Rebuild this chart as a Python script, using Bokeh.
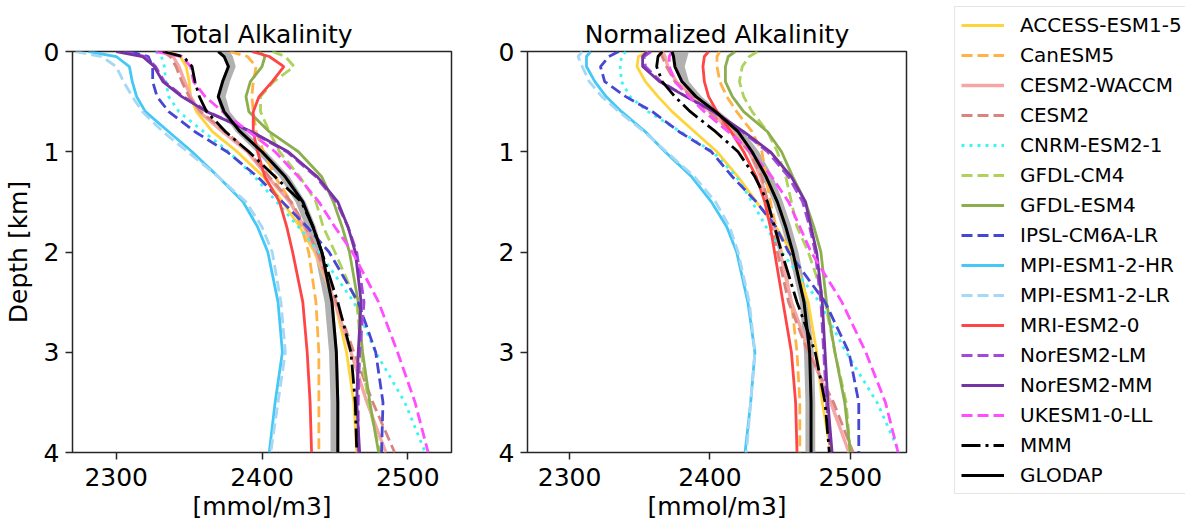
from bokeh.plotting import figure
from bokeh.layouts import row
from bokeh.models import Range1d, FixedTicker, Legend, LegendItem
from bokeh.embed import file_html
from bokeh.resources import INLINE

# ---------------- data ----------------
depth = [0, 0.05, 0.15, 0.3, 0.45, 0.6, 0.8, 1.0, 1.25, 1.5, 1.75, 2.0, 2.5, 3.0, 3.5, 4.0]

models = ["ACCESS-ESM1-5", "CanESM5", "CESM2-WACCM", "CESM2", "CNRM-ESM2-1", "GFDL-CM4",
          "GFDL-ESM4", "IPSL-CM6A-LR", "MPI-ESM1-2-HR", "MPI-ESM1-2-LR", "MRI-ESM2-0",
          "NorESM2-LM", "NorESM2-MM", "UKESM1-0-LL"]

# Total alkalinity (left panel)
ta_access = [2336, 2344, 2348, 2350, 2351, 2355, 2366, 2383, 2401, 2414, 2426, 2436, 2450, 2458, 2463, 2465]
ta_canesm = [2378, 2390, 2396, 2394, 2393, 2394, 2396, 2401, 2409, 2420, 2427, 2432, 2437, 2439, 2439, 2439]
ta_waccm = [2335, 2339, 2343, 2347, 2351, 2357, 2373, 2390, 2404, 2419, 2429, 2437, 2450, 2461, 2472, 2485]
ta_cesm2 = [2332, 2337, 2341, 2345, 2350, 2358, 2375, 2391, 2405, 2420, 2430, 2438, 2451, 2463, 2476, 2491]
ta_cnrm = [2327, 2331, 2333, 2334, 2336, 2343, 2360, 2377, 2395, 2410, 2425, 2439, 2463, 2478, 2498, 2512]
ta_gfdlcm4 = [2407, 2416, 2422, 2408, 2399, 2399, 2405, 2412, 2426, 2437, 2442, 2450, 2465, 2468, 2473, 2481]
ta_gfdlesm4 = [2398, 2402, 2400, 2392, 2389, 2391, 2405, 2425, 2441, 2449, 2455, 2460, 2466, 2469, 2474, 2480]
ta_ipsl = [2309, 2322, 2325, 2325, 2328, 2336, 2354, 2376, 2397, 2414, 2431, 2446, 2466, 2478, 2483, 2482]
ta_mpihr = [2281, 2300, 2309, 2311, 2314, 2320, 2336, 2352, 2370, 2387, 2397, 2404, 2411, 2414, 2409, 2405]
ta_mpilr = [2272, 2290, 2300, 2305, 2311, 2318, 2332, 2349, 2370, 2389, 2400, 2407, 2413, 2416, 2411, 2406]
ta_mri = [2393, 2405, 2415, 2407, 2398, 2394, 2394, 2397, 2402, 2412, 2417, 2421, 2428, 2431, 2433, 2434]
ta_norlm = [2305, 2320, 2327, 2333, 2346, 2363, 2392, 2417, 2437, 2451, 2459, 2465, 2470, 2467, 2466, 2466]
ta_normm = [2300, 2318, 2326, 2332, 2345, 2362, 2393, 2418, 2438, 2452, 2459, 2464, 2468, 2466, 2465, 2467]
ta_ukesm = [2327, 2345, 2351, 2353, 2361, 2373, 2391, 2409, 2425, 2439, 2450, 2462, 2480, 2493, 2505, 2514]
ta_mmm = [2332, 2346, 2352, 2354, 2357, 2362, 2375, 2391, 2409, 2427, 2435, 2441, 2452, 2461, 2464, 2465]
ta_glodap = [2370, 2374, 2377, 2373, 2370, 2374, 2385, 2400, 2416, 2428, 2435, 2441, 2448, 2451, 2452, 2452]
ta_glodap_lo = [2370, 2374, 2376, 2372, 2369, 2372, 2382, 2396, 2412, 2423, 2430, 2436, 2443, 2446, 2447, 2447]
ta_glodap_hi = [2378, 2380, 2382, 2378, 2375, 2378, 2389, 2403, 2419, 2430, 2437, 2442, 2449, 2452, 2453, 2453]

# Normalized alkalinity (right panel)
na_access = [2356, 2349, 2348, 2354, 2363, 2373, 2389, 2405, 2420, 2433, 2447, 2458, 2470, 2476, 2480, 2486]
na_canesm = [2407, 2405, 2405, 2407, 2412, 2419, 2430, 2437, 2440, 2443, 2447, 2451, 2458, 2462, 2464, 2464]
na_waccm = [2366, 2368, 2370, 2376, 2388, 2400, 2416, 2428, 2436, 2441, 2446, 2450, 2458, 2471, 2486, 2499]
na_cesm2 = [2364, 2366, 2369, 2375, 2387, 2399, 2415, 2428, 2437, 2441, 2444, 2448, 2456, 2470, 2488, 2502]
na_cnrm = [2340, 2337, 2336, 2337, 2343, 2356, 2379, 2402, 2419, 2430, 2440, 2451, 2478, 2497, 2519, 2535]
na_gfdlcm4 = [2434, 2428, 2423, 2421, 2424, 2430, 2441, 2448, 2454, 2458, 2462, 2470, 2482, 2489, 2497, 2500]
na_gfdlesm4 = [2418, 2413, 2411, 2411, 2416, 2424, 2441, 2451, 2459, 2468, 2474, 2479, 2483, 2489, 2496, 2500]
na_ipsl = [2335, 2328, 2322, 2325, 2340, 2359, 2378, 2401, 2416, 2433, 2447, 2456, 2482, 2499, 2506, 2506]
na_mpihr = [2315, 2312, 2312, 2318, 2326, 2337, 2354, 2368, 2387, 2401, 2412, 2419, 2427, 2432, 2429, 2425]
na_mpilr = [2309, 2306, 2309, 2314, 2323, 2335, 2353, 2369, 2389, 2404, 2414, 2420, 2428, 2432, 2429, 2426]
na_mri = [2399, 2396, 2395, 2396, 2399, 2405, 2415, 2424, 2433, 2439, 2443, 2446, 2452, 2458, 2461, 2462]
na_norlm = [2358, 2353, 2354, 2365, 2383, 2402, 2423, 2441, 2456, 2466, 2471, 2475, 2479, 2481, 2483, 2486]
na_normm = [2355, 2352, 2352, 2364, 2383, 2403, 2424, 2443, 2458, 2468, 2472, 2476, 2480, 2482, 2484, 2487]
na_ukesm = [2373, 2371, 2371, 2375, 2385, 2396, 2413, 2429, 2444, 2456, 2464, 2472, 2494, 2511, 2525, 2534]
na_mmm = [2366, 2363, 2362, 2366, 2375, 2386, 2404, 2420, 2432, 2441, 2446, 2451, 2462, 2475, 2482, 2485]
na_glodap = [2373, 2374, 2375, 2380, 2390, 2404, 2420, 2430, 2440, 2448, 2454, 2459, 2467, 2471, 2472, 2472]
na_glodap_lo = [2372, 2374, 2376, 2380, 2390, 2402, 2417, 2428, 2437, 2445, 2451, 2456, 2464, 2467, 2468, 2468]
na_glodap_hi = [2385, 2384, 2382, 2385, 2394, 2407, 2424, 2435, 2445, 2452, 2458, 2463, 2470, 2474, 2475, 2475]

xticks = [2300, 2400, 2500]
yticks = [0, 1, 2, 3, 4]

# ---------------- styles ----------------
FONT = "DejaVu Sans"
DASH = "11 5"
DOT = "3 5"
DASHDOT = "19 5 3 5"
styles = {
    "ACCESS-ESM1-5": ("#FFD43B", "solid", 2.8),
    "CanESM5": ("#FFB347", DASH, 2.8),
    "CESM2-WACCM": ("#F4A7A5", "solid", 3.3),
    "CESM2": ("#D9847F", DASH, 2.8),
    "CNRM-ESM2-1": ("#38F6F6", DOT, 2.8),
    "GFDL-CM4": ("#AED35C", DASH, 2.8),
    "GFDL-ESM4": ("#8DAE4E", "solid", 2.8),
    "IPSL-CM6A-LR": ("#4747D6", DASH, 2.8),
    "MPI-ESM1-2-HR": ("#45C8F5", "solid", 2.8),
    "MPI-ESM1-2-LR": ("#A6D8F5", DASH, 2.8),
    "MRI-ESM2-0": ("#FF4545", "solid", 2.8),
    "NorESM2-LM": ("#A447DC", DASH, 2.8),
    "NorESM2-MM": ("#7434A3", "solid", 2.8),
    "UKESM1-0-LL": ("#FF4DFF", DASH, 2.8),
    "MMM": ("black", DASHDOT, 2.8),
    "GLODAP": ("black", "solid", 3),
}

ta_series = [ta_access, ta_canesm, ta_waccm, ta_cesm2, ta_cnrm, ta_gfdlcm4, ta_gfdlesm4, ta_ipsl,
             ta_mpihr, ta_mpilr, ta_mri, ta_norlm, ta_normm, ta_ukesm]
na_series = [na_access, na_canesm, na_waccm, na_cesm2, na_cnrm, na_gfdlcm4, na_gfdlesm4, na_ipsl,
             na_mpihr, na_mpilr, na_mri, na_norlm, na_normm, na_ukesm]


def add_lines(p, series, mmm, glodap):
    rends = []
    for name, vals in zip(models, series):
        c, d, w = styles[name]
        rends.append(p.line(vals, depth, line_color=c, line_dash=d, line_width=w))
    c, d, w = styles["MMM"]
    rends.append(p.line(mmm, depth, line_color=c, line_dash=d, line_width=w))
    c, d, w = styles["GLODAP"]
    rends.append(p.line(glodap, depth, line_color=c, line_dash=d, line_width=w))
    return rends


def make_panel(title, xr, series, mmm, glodap, lo, hi, ylabel):
    p = figure(frame_width=379, frame_height=401,
               x_range=Range1d(*xr), y_range=Range1d(4, 0),
               output_backend="svg", toolbar_location=None, title=title,
               min_border_left=66, min_border_right=10,
               min_border_top=51, min_border_bottom=0)
    p.frame_align = False
    p.title.text_font = FONT
    p.title.text_font_size = "25px"
    p.title.text_font_style = "normal"
    p.title.align = "center"
    p.title.text_color = "black"
    p.title.standoff = 6
    p.grid.visible = False
    p.outline_line_color = "#262626"
    p.outline_line_width = 1.5
    p.outline_line_alpha = 1
    for ax in (p.xaxis, p.yaxis):
        ax.axis_line_color = None
        ax.major_tick_line_color = "#262626"
        ax.major_tick_line_width = 1.5
        ax.major_tick_out = 7
        ax.major_tick_in = 0
        ax.minor_tick_line_color = None
        ax.major_label_text_font = FONT
        ax.major_label_text_font_size = "25px"
        ax.major_label_text_color = "black"
        ax.axis_label_text_font = FONT
        ax.axis_label_text_font_size = "25px"
        ax.axis_label_text_font_style = "normal"
        ax.axis_label_text_color = "black"
    p.xaxis.ticker = FixedTicker(ticks=xticks)
    p.yaxis.ticker = FixedTicker(ticks=yticks)
    p.xaxis.major_label_standoff = 8
    p.xaxis.axis_label = "[mmol/m3]"
    p.xaxis.axis_label_standoff = 3
    p.yaxis.major_label_standoff = 6
    if ylabel:
        p.yaxis.axis_label = ylabel
        p.yaxis.axis_label_standoff = 8

    p.harea(x1=lo, x2=hi, y=depth, fill_color="#A9A9A9", fill_alpha=0.9)
    add_lines(p, series, mmm, glodap)
    return p


p1 = make_panel("Total Alkalinity", (2270, 2530), ta_series, ta_mmm, ta_glodap,
                ta_glodap_lo, ta_glodap_hi, "Depth [km]")
p2 = make_panel("Normalized Alkalinity", (2270, 2540), na_series, na_mmm, na_glodap,
                na_glodap_lo, na_glodap_hi, None)

# legend panel: lines of the right panel drawn out of view, only their legend is seen
p3 = figure(width=269, height=510, output_backend="svg", toolbar_location=None,
            x_range=Range1d(0, 1), y_range=Range1d(0, 1),
            x_axis_location=None, y_axis_location=None,
            min_border_left=38, min_border_top=6, min_border_right=0, min_border_bottom=0)
p3.frame_align = False
p3.grid.visible = False
p3.outline_line_color = None
r3 = add_lines(p3, na_series, na_mmm, na_glodap)
items = [LegendItem(label=name, renderers=[r]) for name, r in zip(models + ["MMM", "GLODAP"], r3)]
leg = Legend(items=items, location="top_left", margin=0, padding=6,
             glyph_width=43, glyph_height=24, label_height=24, spacing=6,
             label_standoff=16, label_text_font=FONT, label_text_font_size="20px",
             label_text_color="black",
             border_line_color="#CCCCCC", border_line_width=1.5,
             background_fill_color="white", background_fill_alpha=1)
p3.add_layout(leg)

layout = row(p1, p2, p3, spacing=0)
open("out.html", "w").write(file_html(layout, INLINE))
